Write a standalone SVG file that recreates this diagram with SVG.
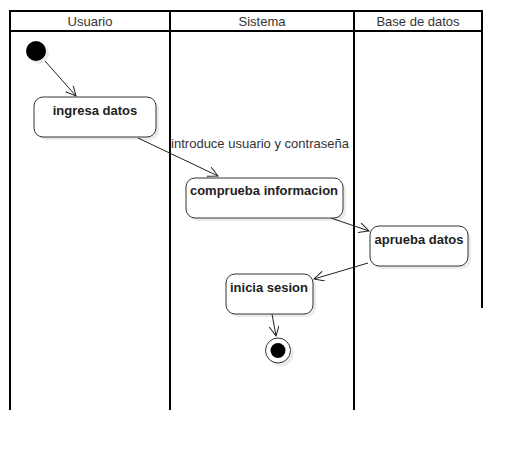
<svg xmlns="http://www.w3.org/2000/svg" width="522" height="450" viewBox="0 0 522 450">
  <style>
    .lane { stroke: #000; stroke-width: 2; fill: none; }
    .head { font-family: "Liberation Sans", Arial, sans-serif; font-size: 13px; fill: #333; text-anchor: middle; }
    .node { fill: #fff; stroke: #333; stroke-width: 1; }
    .shadow { fill: #000; fill-opacity: 0.08; }
    .label { font-family: "Liberation Sans", Arial, sans-serif; font-size: 13px; font-weight: bold; fill: #222; text-anchor: middle; }
    .edge { stroke: #222; stroke-width: 1; fill: none; marker-end: url(#open); }
    .elabel { font-family: "Liberation Sans", Arial, sans-serif; font-size: 13px; fill: #333; text-anchor: middle; }
  </style>
  <defs>
    <marker id="open" markerUnits="userSpaceOnUse" markerWidth="14" markerHeight="12" refX="11" refY="5" orient="auto">
      <path d="M1,0 L11,5 L1,10" fill="none" stroke="#222" stroke-width="1"/>
    </marker>
  </defs>
  <rect width="522" height="450" fill="#fff"/>

  <!-- swimlanes -->
  <g id="lanes">
    <rect class="lane" x="10" y="11" width="472" height="20"/>
    <line class="lane" x1="170" y1="11" x2="170" y2="410"/>
    <line class="lane" x1="354" y1="11" x2="354" y2="410"/>
    <line class="lane" x1="10" y1="31" x2="10" y2="410"/>
    <line class="lane" x1="482" y1="31" x2="482" y2="308"/>
    <text class="head" x="90" y="26">Usuario</text>
    <text class="head" x="262" y="26">Sistema</text>
    <text class="head" x="418" y="26">Base de datos</text>
  </g>

  <!-- connectors -->
  <g id="edges">
    <line class="edge" x1="45" y1="61" x2="76" y2="96"/>
    <line class="edge" x1="138" y1="138" x2="218" y2="176"/>
    <text class="elabel" x="260" y="148">introduce usuario y contraseña</text>
    <line class="edge" x1="331" y1="218" x2="369" y2="231"/>
    <line class="edge" x1="368" y1="263" x2="314" y2="279"/>
    <line class="edge" x1="272" y1="314" x2="276" y2="336"/>
  </g>

  <g id="start">
    <circle class="shadow" cx="39" cy="54" r="10"/>
    <circle cx="36" cy="51" r="10" fill="#000"/>
  </g>

  <g id="ingresa-datos">
    <rect class="shadow" x="37" y="100" width="122" height="40" rx="9"/>
    <rect class="node" x="34" y="97" width="122" height="40" rx="9"/>
    <text class="label" x="95" y="115">ingresa datos</text>
  </g>

  <g id="comprueba-informacion">
    <rect class="shadow" x="189" y="181" width="157" height="40" rx="9"/>
    <rect class="node" x="186" y="178" width="157" height="40" rx="9"/>
    <text class="label" x="264" y="195">comprueba informacion</text>
  </g>

  <g id="aprueba-datos">
    <rect class="shadow" x="373" y="229" width="98" height="40" rx="9"/>
    <rect class="node" x="370" y="226" width="98" height="40" rx="9"/>
    <text class="label" x="419" y="244">aprueba datos</text>
  </g>

  <g id="inicia-sesion">
    <rect class="shadow" x="229" y="277" width="87" height="40" rx="9"/>
    <rect class="node" x="226" y="274" width="87" height="40" rx="9"/>
    <text class="label" x="269" y="292">inicia sesion</text>
  </g>

  <g id="end">
    <circle class="shadow" cx="281" cy="354" r="12.5"/>
    <circle cx="278" cy="350.5" r="12.5" fill="#fff" stroke="#333" stroke-width="1"/>
    <circle cx="278" cy="350.5" r="7.5" fill="#000"/>
  </g>
</svg>
